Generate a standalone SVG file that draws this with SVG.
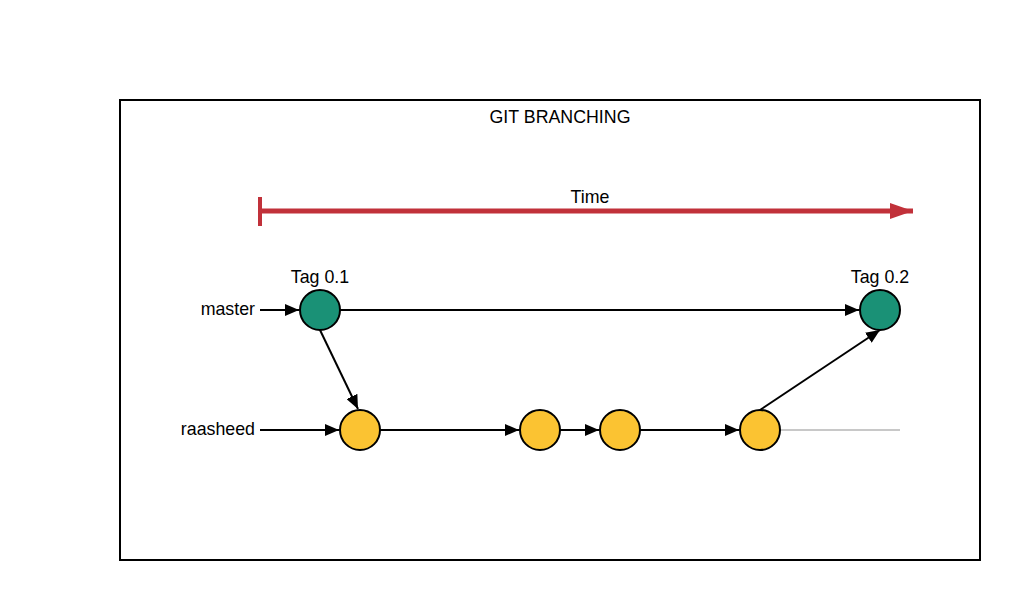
<svg xmlns="http://www.w3.org/2000/svg" width="1020" height="600" viewBox="0 0 1020 600">
<style>
text{font-family:"Liberation Sans",Arial,sans-serif;font-size:17.8px;fill:#000}
.m{text-anchor:middle}
.e{text-anchor:end}
.edge{stroke:#000;stroke-width:2;fill:none}
.g{fill:#1a9176;stroke:#000;stroke-width:2}
.y{fill:#fbc332;stroke:#000;stroke-width:2}
</style>
<defs>
<marker id="ah" viewBox="0 0 10 10" refX="10" refY="5" markerWidth="14" markerHeight="12" markerUnits="userSpaceOnUse" orient="auto" preserveAspectRatio="none"><path d="M0,0L10,5L0,10Z" fill="#000"/></marker>
<marker id="rh" viewBox="0 0 10 10" refX="10" refY="5" markerWidth="23" markerHeight="16" markerUnits="userSpaceOnUse" orient="auto" preserveAspectRatio="none"><path d="M0,0L10,5L0,10Z" fill="#c1313a"/></marker>
</defs>
<rect x="0" y="0" width="1020" height="600" fill="#fff"/>
<rect x="120" y="100" width="860" height="460" fill="#fff" stroke="#000" stroke-width="2"/>
<text class="m" x="560" y="123">GIT BRANCHING</text>
<g id="time">
<line x1="260" y1="197" x2="260" y2="226" stroke="#c1313a" stroke-width="4"/>
<line x1="260" y1="211" x2="913" y2="211" stroke="#c1313a" stroke-width="5" marker-end="url(#rh)"/>
<text class="m" x="590" y="203">Time</text>
</g>
<g id="connectors">
<line class="edge" x1="260" y1="310" x2="299" y2="310" marker-end="url(#ah)"/>
<line class="edge" x1="260" y1="430" x2="339" y2="430" marker-end="url(#ah)"/>
<line class="edge" x1="340" y1="310" x2="859" y2="310" marker-end="url(#ah)"/>
<line class="edge" x1="320" y1="330" x2="358" y2="409" marker-end="url(#ah)"/>
<line class="edge" x1="380" y1="430" x2="519" y2="430" marker-end="url(#ah)"/>
<line class="edge" x1="560" y1="430" x2="599" y2="430" marker-end="url(#ah)"/>
<line class="edge" x1="640" y1="430" x2="739" y2="430" marker-end="url(#ah)"/>
<line class="edge" x1="760" y1="410" x2="880" y2="330" marker-end="url(#ah)"/>
<line x1="780" y1="430" x2="900" y2="430" stroke="#c8c8c8" stroke-width="2"/>
</g>
<g id="label-master"><text class="e" x="255" y="315">master</text></g>
<g id="label-raasheed"><text class="e" x="255" y="435">raasheed</text></g>
<g id="m1"><circle class="g" cx="320" cy="310" r="20"/><text class="m" x="320" y="283">Tag 0.1</text></g>
<g id="m2"><circle class="g" cx="880" cy="310" r="20"/><text class="m" x="880" y="283">Tag 0.2</text></g>
<g id="b1"><circle class="y" cx="360" cy="430" r="20"/></g>
<g id="b2"><circle class="y" cx="540" cy="430" r="20"/></g>
<g id="b3"><circle class="y" cx="620" cy="430" r="20"/></g>
<g id="b4"><circle class="y" cx="760" cy="430" r="20"/></g>
</svg>
